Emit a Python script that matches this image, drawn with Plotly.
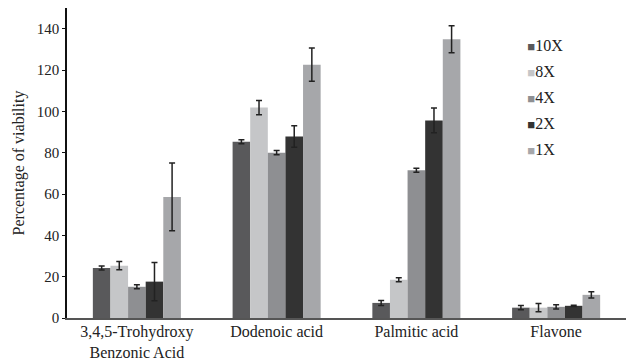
import plotly.graph_objects as go

categories = ["3,4,5-Trohydroxy<br>Benzonic Acid", "Dodenoic acid", "Palmitic acid", "Flavone"]
series_names = ["10X", "8X", "4X", "2X", "1X"]
val_10x = [24.2, 85.3, 7.3, 5.0]
val_8x = [25.3, 101.8, 18.5, 5.0]
val_4x = [15.1, 80.0, 71.5, 5.4]
val_2x = [17.6, 87.8, 95.6, 5.9]
val_1x = [58.6, 122.6, 134.9, 11.2]
err_10x = [1.0, 1.0, 1.2, 1.0]
err_8x = [2.0, 3.5, 1.0, 2.0]
err_4x = [1.0, 1.0, 1.0, 1.0]
err_2x = [9.3, 5.2, 6.0, 0.3]
err_1x = [16.4, 8.0, 6.5, 1.5]
colors = ["#59595b", "#c5c6c8", "#8e8f92", "#333333", "#a6a7aa"]

values = [val_10x, val_8x, val_4x, val_2x, val_1x]
errors = [err_10x, err_8x, err_4x, err_2x, err_1x]

font_family = "Liberation Serif, Times New Roman, serif"

fig = go.Figure()
for name, v, e, c in zip(series_names, values, errors, colors):
    fig.add_trace(go.Bar(
        x=categories, y=v, name=name, marker=dict(color=c, line=dict(width=0)),
        error_y=dict(type="data", array=e, visible=True, color="#222222", thickness=1.5, width=3),
        showlegend=False,
    ))
    # legend entry: small coloured square glyph in text, invisible marker
    fig.add_trace(go.Scatter(
        x=[None], y=[None], mode="markers",
        marker=dict(color="rgba(0,0,0,0)", size=1),
        name=f"<span style='color:{c};font-size:13px'>■</span>{name}",
        showlegend=True, legendgroup=name,
    ))

fig.update_layout(
    width=626, height=360,
    margin=dict(l=67, r=0, t=8, b=42),
    paper_bgcolor="white", plot_bgcolor="white",
    barmode="group", bargap=0.37, bargroupgap=0,
    font=dict(family=font_family, size=15, color="#222222"),
    legend=dict(
        x=0.752, xanchor="left", y=0.935, yanchor="top",
        bgcolor="rgba(0,0,0,0)", font=dict(size=16, family=font_family),
        tracegroupgap=2, traceorder="grouped", itemwidth=30,
    ),
    yaxis=dict(
        range=[0, 150], tickvals=[0, 20, 40, 60, 80, 100, 120, 140],
        showgrid=False, zeroline=False, showline=True, linecolor="#111111", linewidth=1.5,
        ticks="outside", ticklen=3, tickcolor="#111111", tickwidth=1,
        tickfont=dict(size=15, family=font_family), automargin=False,
        title=dict(text="Percentage of viability", font=dict(size=16, family=font_family), standoff=8),
    ),
    xaxis=dict(
        showgrid=False, showline=True, linecolor="#555555", linewidth=2,
        ticks="", tickfont=dict(size=16, family=font_family), ticklabelstandoff=-2,
        automargin=False,
    ),
)

fig.write_html("out.html")
